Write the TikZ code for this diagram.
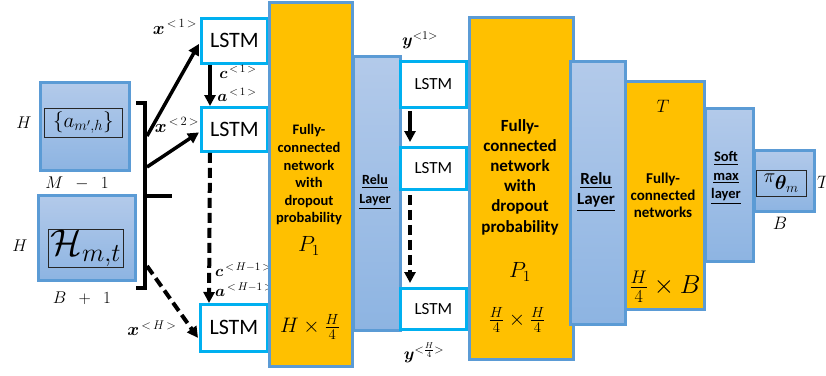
\RequirePackage{fix-cm}
\documentclass[tikz,border=0pt]{standalone}
\usepackage{amsmath,bm}
\usepackage{fontspec}
\newfontfamily\calib{Carlito}
\usetikzlibrary{arrows.meta,calc}
\definecolor{bbord}{HTML}{5B9BD5}
\definecolor{btop}{HTML}{B3CAEA}
\definecolor{bbot}{HTML}{8DB4E2}
\definecolor{ylw}{HTML}{FFC000}
\definecolor{cyanb}{HTML}{00B0F0}
\newcommand{\fs}[1]{\fontsize{#1}{#1}\selectfont}
\begin{document}
\begin{tikzpicture}[x=1pt,y=-1pt,
 blk/.style={draw=bbord, line width=2.5pt, top color=btop, bottom color=bbot, anchor=north west, inner sep=0pt},
 ybox/.style={draw=bbord, line width=2.5pt, fill=ylw, anchor=north west, inner sep=0pt},
 lstmL/.style={draw=cyanb, line width=2.8pt, fill=white, anchor=north west, inner sep=0pt, font=\calib\fs{22}},
 lstmR/.style={draw=cyanb, line width=2.8pt, fill=white, anchor=north west, inner sep=0pt, font=\calib\fs{17}},
 inbox/.style={draw=black!85, line width=0.8pt, anchor=north west, inner sep=0pt},
 arr/.style={line width=3.5pt, -{Triangle[length=11pt,width=11pt]}},
 darr/.style={line width=4pt, dash pattern=on 10pt off 5pt, -{Triangle[length=11pt,width=11pt,sep=0pt]}},
 btxt/.style={align=center, inner sep=0pt},
 lbl/.style={inner sep=0pt}
]
\useasboundingbox (0,0) rectangle (826,375);
\fill[white] (0,0) rectangle (826,375);

% left input blocks
\node[blk, minimum width=89pt, minimum height=88pt] (A) at (39,81) {};
\node[inbox, minimum width=78pt, minimum height=29pt, font=\fs{21}] (Ai) at (44,108) {$\{a_{m',h}\}$};
\node[blk, minimum width=97pt, minimum height=85pt] (Hb) at (37,194) {};
\node[inbox, minimum width=75pt, minimum height=38pt, font=\fs{37}] (Hi) at (48,229) {$\mathcal{H}_{m,t}$};
\node[lbl, font=\fs{17}] (lH1) at (24,123) {$H$};
\node[lbl, font=\fs{17}] (lM) at (77,183) {$M\;\:-\;\:1$};
\node[lbl, font=\fs{17}] (lH2) at (20,246) {$H$};
\node[lbl, font=\fs{17}] (lB) at (82,298) {$B\;\:+\;\:1$};

% bracket
\coordinate (bt) at (136,103);
\coordinate (bb) at (136,288);
\coordinate (bm) at (172,196);
\draw[line width=3.5pt] (bt) -- (145,103) -- (145,288) -- (bb);
\draw[line width=3.5pt] (145,196) -- (bm);
\coordinate (o1) at (147,136);
\coordinate (o2) at (147,167);
\coordinate (o3) at (147,266);

% left LSTMs
\node[lstmL, minimum width=66pt, minimum height=45pt] (L1) at (200,17) {LSTM};
\node[lstmL, minimum width=66pt, minimum height=44pt] (L2) at (200,106) {LSTM};
\node[lstmL, minimum width=67pt, minimum height=47pt] (L3) at (199,303) {LSTM};

\draw[arr] (o1) -- ($(L1.west)+(-1,3)$);
\draw[arr] (o2) -- ($(L2.west)+(-1,3)$);
\draw[darr] (o3) -- ($(L3.west)+(-1,10)$);
\draw[arr] ([xshift=10pt]L1.south west) -- ([xshift=10pt]L2.north west);
\draw[darr] ([xshift=10pt]L2.south west) -- ([xshift=10pt]L3.north west);

\node[lbl, font=\fs{18}] (x1) at (175,27) {$\bm{x}^{\,<\,1\,>}$};
\node[lbl, font=\fs{18}] (x2) at (177,125) {$\bm{x}^{\,<\,2\,>}$};
\node[lbl, font=\fs{18}] (xH) at (152,328) {$\bm{x}^{\,<\,H\,>}$};
\node[lbl, font=\fs{16}] (c1) at (238,72) {$\bm{c}^{\,<\,1\,>}$};
\node[lbl, font=\fs{16}] (a1) at (237,95) {$\bm{a}^{\,<\,1\,>}$};
\node[lbl, font=\fs{16}, anchor=west] (cH) at (215,270) {$\bm{c}^{\,<\,H-1\,>}$};
\node[lbl, font=\fs{16}, anchor=west] (aH) at (215,290) {$\bm{a}^{\,<\,H-1\,>}$};

% first FC + relu
\node[ybox, minimum width=83pt, minimum height=364pt] (Y1) at (268,1) {};
\node[btxt, font=\calib\bfseries\fs{14.5}, text width=80pt, execute at begin node={\baselineskip=17.6pt}] (Y1t) at (309,175) {Fully-\\connected\\network\\with\\dropout\\probability};
\node[lbl, font=\fs{22}] (Y1p) at (309,246) {$P_1$};
\node[lbl, font=\fs{21}] (Y1d) at (310,327) {$H\times\frac{H}{4}$};
\node[blk, minimum width=47pt, minimum height=274pt] (R1) at (352,55) {};
\node[btxt, font=\calib\bfseries\fs{14}, execute at begin node={\baselineskip=19pt}] (R1t) at (375,192) {\underline{Relu}\\\underline{Layer}};

% right LSTMs
\node[lstmR, minimum width=66pt, minimum height=46pt] (Ra) at (399,60) {LSTM};
\node[lstmR, minimum width=66pt, minimum height=42pt] (Rb) at (399,146) {LSTM};
\node[lstmR, minimum width=66pt, minimum height=41pt] (Rc) at (399,287) {LSTM};
\draw[arr, shorten <=2pt, shorten >=4pt] ([xshift=11pt]Ra.south west) -- ([xshift=11pt]Rb.north west);
\draw[darr, shorten <=4pt, shorten >=4pt] ([xshift=11pt]Rb.south west) -- ([xshift=11pt]Rc.north west);
\node[lbl, font=\fs{17}] (y1) at (420,40) {$\bm{y}^{<1>}$};
\node[lbl, font=\fs{17}] (yH) at (424,353) {$\bm{y}^{<\frac{H}{4}>}$};

% second FC + relu
\node[ybox, minimum width=104pt, minimum height=342pt] (Y2) at (468,16) {};
\node[btxt, font=\calib\bfseries\fs{17}, text width=100pt, execute at begin node={\baselineskip=20.2pt}] (Y2t) at (520,177) {Fully-\\connected\\network\\with\\dropout\\probability};
\node[lbl, font=\fs{22}] (Y2p) at (520,272) {$P_1$};
\node[lbl, font=\fs{21}] (Y2d) at (517,320) {$\frac{H}{4}\times\frac{H}{4}$};
\node[blk, minimum width=55pt, minimum height=263pt] (R2) at (569,60) {};
\node[btxt, font=\calib\bfseries\fs{17}, execute at begin node={\baselineskip=20pt}] (R2t) at (596,192) {\underline{Relu}\\\underline{Layer}};

% third FC, softmax, output
\node[ybox, minimum width=79pt, minimum height=228pt] (Y3) at (624,80) {};
\node[lbl, font=\fs{18}] (Y3T) at (663,106) {$T$};
\node[btxt, font=\calib\bfseries\fs{15}, text width=78pt, execute at begin node={\baselineskip=17pt}] (Y3t) at (663,195) {Fully-\\connected\\networks};
\node[lbl, font=\fs{26}] (Y3d) at (665,287) {$\frac{H}{4}\times B$};
\node[blk, minimum width=48pt, minimum height=153pt] (S) at (704,107) {};
\node[btxt, font=\calib\bfseries\fs{14.5}, execute at begin node={\baselineskip=18.5pt}] (St) at (726,178) {\underline{Soft}\\\underline{max}\\\underline{layer}};
\node[blk, minimum width=60pt, minimum height=61pt] (P) at (753,149) {};
\node[inbox, minimum width=50pt, minimum height=26pt, font=\fs{20}] (Pi) at (756,170) {$\pi_{\textstyle\bm{\theta}_m}$};
\node[lbl, font=\fs{18}, anchor=west] (PT) at (817,182) {$T$};
\node[lbl, font=\fs{18}] (PB) at (780,223) {$B$};
\end{tikzpicture}
\end{document}
